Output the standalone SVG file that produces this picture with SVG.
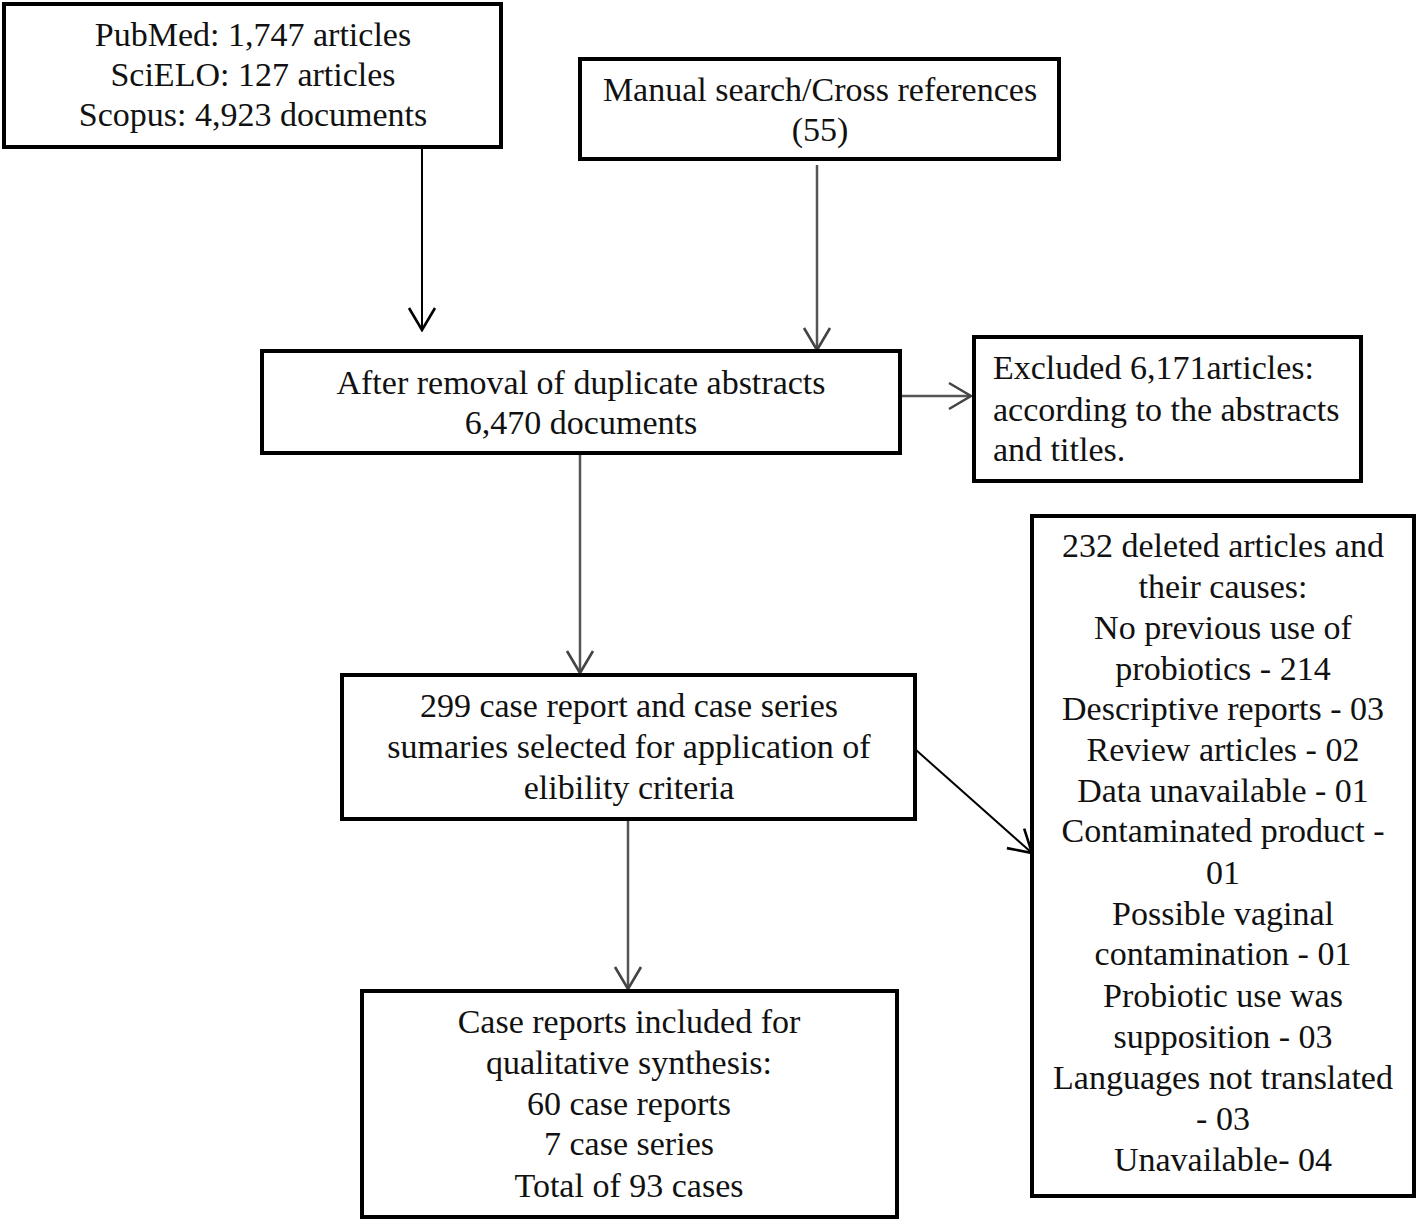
<svg xmlns="http://www.w3.org/2000/svg" width="1418" height="1222" viewBox="0 0 1418 1222">
<defs>
<marker id="ahk" viewBox="0 0 26 30" refX="24" refY="15" markerWidth="26" markerHeight="30" markerUnits="userSpaceOnUse" orient="auto">
<path d="M2,2 L24,15 L2,28" fill="none" stroke="#000" stroke-width="2.6"/>
</marker>
<marker id="ahg" viewBox="0 0 26 30" refX="24" refY="15" markerWidth="26" markerHeight="30" markerUnits="userSpaceOnUse" orient="auto">
<path d="M2,2 L24,15 L2,28" fill="none" stroke="#444" stroke-width="2.6"/>
</marker>
</defs>
<style>
.box{fill:#fff;stroke:#000;stroke-width:4}
.t{font-family:"Liberation Serif","Times New Roman",serif;font-size:34px;fill:#111}
.c{text-anchor:middle}
.ck{fill:none;stroke:#000;stroke-width:2}
.cg{fill:none;stroke:#555;stroke-width:2.5}
</style>
<rect width="1418" height="1222" fill="#fff"/>
<g id="connectors">
<line class="ck" x1="422" y1="149" x2="422" y2="330" marker-end="url(#ahk)"/>
<line class="cg" x1="817" y1="165" x2="817" y2="350" marker-end="url(#ahg)"/>
<line class="cg" x1="895" y1="396" x2="971" y2="396" marker-end="url(#ahg)"/>
<line class="cg" x1="580" y1="455" x2="580" y2="673" marker-end="url(#ahg)"/>
<line class="ck" x1="916" y1="750" x2="1032" y2="853" marker-end="url(#ahk)"/>
<line class="cg" x1="628" y1="821" x2="628" y2="989" marker-end="url(#ahg)"/>
</g>
<g id="n1">
<rect class="box" x="4" y="4" width="497" height="143"/>
<text class="t c" x="253" y="46">PubMed: 1,747 articles</text>
<text class="t c" x="253" y="86">SciELO: 127 articles</text>
<text class="t c" x="253" y="126">Scopus: 4,923 documents</text>
</g>
<g id="n2">
<rect class="box" x="580" y="59" width="479" height="100"/>
<text class="t c" x="820" y="101">Manual search/Cross references</text>
<text class="t c" x="820" y="141">(55)</text>
</g>
<g id="n3">
<rect class="box" x="262" y="351" width="638" height="102"/>
<text class="t c" x="581" y="394">After removal of duplicate abstracts</text>
<text class="t c" x="581" y="434">6,470 documents</text>
</g>
<g id="n4">
<rect class="box" x="974" y="337" width="387" height="144"/>
<text class="t" x="993" y="379">Excluded 6,171articles:</text>
<text class="t" x="993" y="421">according to the abstracts</text>
<text class="t" x="993" y="461">and titles.</text>
</g>
<g id="n5">
<rect class="box" x="342" y="675" width="573" height="144"/>
<text class="t c" x="629" y="717">299 case report and case series</text>
<text class="t c" x="629" y="758">sumaries selected for application of</text>
<text class="t c" x="629" y="799">elibility criteria</text>
</g>
<g id="n6">
<rect class="box" x="362" y="991" width="535" height="226"/>
<text class="t c" x="629" y="1033">Case reports included for</text>
<text class="t c" x="629" y="1074">qualitative synthesis:</text>
<text class="t c" x="629" y="1115">60 case reports</text>
<text class="t c" x="629" y="1155">7 case series</text>
<text class="t c" x="629" y="1197">Total of 93 cases</text>
</g>
<g id="n7">
<rect class="box" x="1032" y="516" width="382" height="680"/>
<text class="t c" x="1223" y="557">232 deleted articles and</text>
<text class="t c" x="1223" y="598">their causes:</text>
<text class="t c" x="1223" y="639">No previous use of</text>
<text class="t c" x="1223" y="680">probiotics - 214</text>
<text class="t c" x="1223" y="720">Descriptive reports - 03</text>
<text class="t c" x="1223" y="761">Review articles - 02</text>
<text class="t c" x="1223" y="802">Data unavailable - 01</text>
<text class="t c" x="1223" y="842">Contaminated product -</text>
<text class="t c" x="1223" y="884">01</text>
<text class="t c" x="1223" y="925">Possible vaginal</text>
<text class="t c" x="1223" y="965">contamination - 01</text>
<text class="t c" x="1223" y="1007">Probiotic use was</text>
<text class="t c" x="1223" y="1048">supposition - 03</text>
<text class="t c" x="1223" y="1089">Languages not translated</text>
<text class="t c" x="1223" y="1130">- 03</text>
<text class="t c" x="1223" y="1171">Unavailable- 04</text>
</g>
</svg>
